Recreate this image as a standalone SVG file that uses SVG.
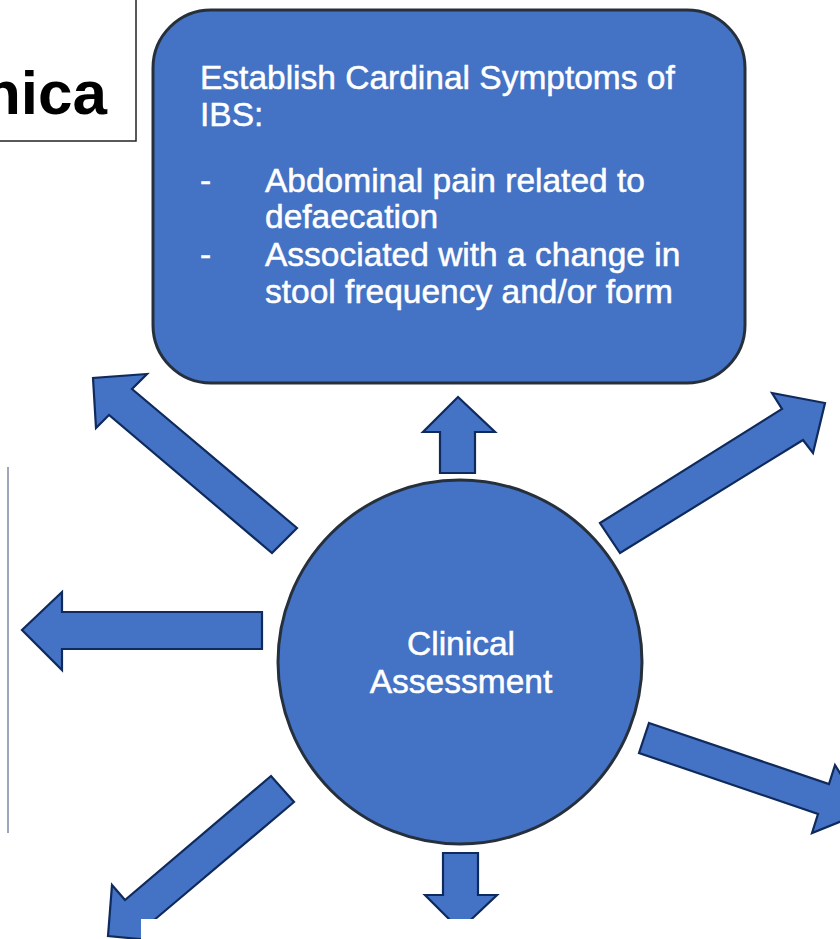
<svg xmlns="http://www.w3.org/2000/svg" width="840" height="939" viewBox="0 0 840 939">
<style>
.arrow{fill:#4472C4;stroke:#0f2a5c;stroke-width:2.2;stroke-linejoin:miter}
.node{fill:#4472C4;stroke:#26303d;stroke-width:3}
.wt{font-family:"Liberation Sans",Arial,sans-serif;fill:#ffffff;stroke:#ffffff;stroke-width:0.5}
</style>
<rect width="840" height="939" fill="#ffffff"/>
<g id="title">
<rect x="-10" y="-10" width="146" height="151" fill="#ffffff" stroke="#222222" stroke-width="1.5"/>
<text x="107" y="114" text-anchor="end" font-family="Liberation Sans,Arial,sans-serif" font-weight="bold" font-size="62" fill="#000000">nica</text>
</g>
<line id="sideline" x1="8" y1="467" x2="8" y2="833" stroke="#7f8aa6" stroke-width="1.5"/>
<g id="cardinal">
<rect x="153" y="10" width="592" height="373" rx="58" ry="58" class="node"/>
<text class="wt" font-size="33.5">
<tspan x="200" y="89">Establish Cardinal Symptoms of</tspan>
<tspan x="200" y="126">IBS:</tspan>
<tspan x="200" y="192">-</tspan>
<tspan x="265" y="192">Abdominal pain related to</tspan>
<tspan x="265" y="228">defaecation</tspan>
<tspan x="200" y="266">-</tspan>
<tspan x="265" y="266">Associated with a change in</tspan>
<tspan x="265" y="303">stool frequency and/or form</tspan>
</text>
</g>
<g id="assessment">
<circle cx="460" cy="662" r="182" class="node"/>
<text class="wt" font-size="33.5" text-anchor="middle"><tspan x="461" y="655">Clinical</tspan><tspan x="461" y="693">Assessment</tspan></text>
</g>
<g id="connectors">
<polygon class="arrow" points="440,473 440,432 423,432 458,397 495,432 475,432 475,473"/>
<polygon class="arrow" points="443,853 478,853 478,895 497,895 460,930 425,895 443,895"/>
<polygon class="arrow" points="262,612 262,649 62,649 62,670 22,630 62,592 62,612"/>
<polygon class="arrow" points="297,528 132,389 147,374 93,378 96,428 109,415 272,553"/>
<polygon class="arrow" points="600,523 782,409 772,393 825,403 813,453 803,440 620,553"/>
<polygon class="arrow" points="649,723 829,784 835,765 864,812 812,833 818,814 639,753"/>
<polygon class="arrow" points="271,776 125,900 112,885 108,936 160,941 147,926 294,802"/>
</g>
<rect x="141" y="919" width="699" height="20" fill="#ffffff"/>
</svg>
